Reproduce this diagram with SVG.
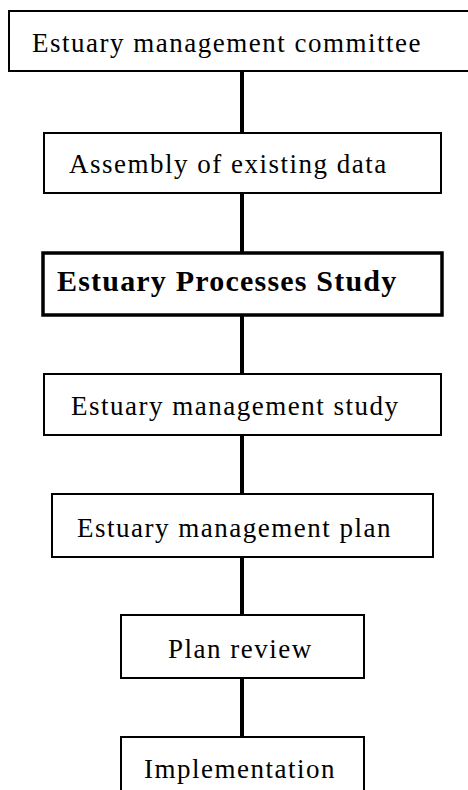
<svg xmlns="http://www.w3.org/2000/svg" width="468" height="790" viewBox="0 0 468 790">
<style>
.box{fill:#fff;stroke:#000;stroke-width:2}
.bold{fill:#fff;stroke:#000;stroke-width:3.5}
.t{font-family:"Liberation Serif","Times New Roman",serif;font-size:27px;letter-spacing:1.5px;fill:#000}
.tb{font-family:"Liberation Serif","Times New Roman",serif;font-size:30px;font-weight:bold;letter-spacing:1.2px;fill:#000}
.c{stroke:#000;stroke-width:4;fill:none}
</style>
<rect width="468" height="790" fill="#fff"/>
<g id="connectors">
<line class="c" x1="242" y1="71" x2="242" y2="133"/>
<line class="c" x1="242" y1="193" x2="242" y2="253"/>
<line class="c" x1="242" y1="315" x2="242" y2="374"/>
<line class="c" x1="242" y1="435" x2="242" y2="494"/>
<line class="c" x1="242" y1="557" x2="242" y2="615"/>
<line class="c" x1="242" y1="678" x2="242" y2="737"/>
</g>
<g id="n1"><rect class="box" x="9" y="11" width="470" height="60"/><text class="t" x="32" y="52">Estuary management committee</text></g>
<g id="n2"><rect class="box" x="44" y="133" width="397" height="60"/><text class="t" x="69" y="173">Assembly of existing data</text></g>
<g id="n3"><rect class="bold" x="43" y="253" width="399" height="62"/><text class="tb" x="57" y="291">Estuary Processes Study</text></g>
<g id="n4"><rect class="box" x="44" y="374" width="397" height="61"/><text class="t" x="71" y="415">Estuary management study</text></g>
<g id="n5"><rect class="box" x="52" y="494" width="381" height="63"/><text class="t" x="77" y="537">Estuary management plan</text></g>
<g id="n6"><rect class="box" x="121" y="615" width="243" height="63"/><text class="t" x="168" y="658">Plan review</text></g>
<g id="n7"><rect class="box" x="121" y="737" width="243" height="70"/><text class="t" x="144" y="778">Implementation</text></g>
</svg>
